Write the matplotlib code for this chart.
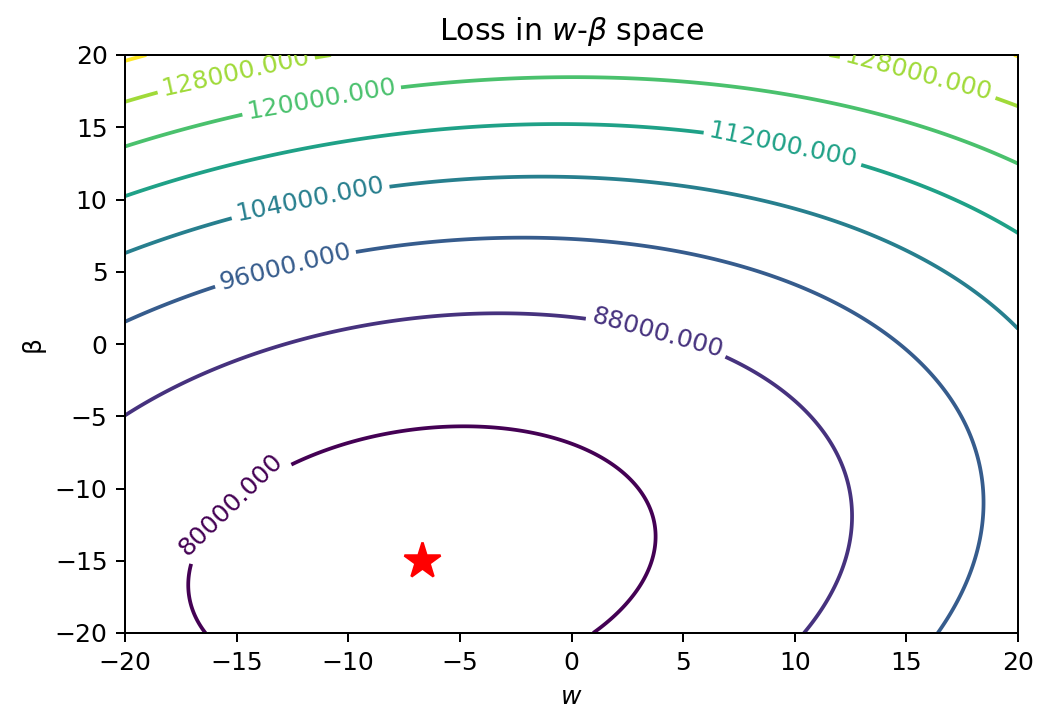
import numpy as np
import matplotlib
matplotlib.use('Agg')
import matplotlib.pyplot as plt

# minimum of the loss (red star) and quadratic shape
w_opt = -6.7
beta_opt = -15.0
loss_min = 76650.0
curv_w = 31.6      # d2L/dw2 / 2
curv_beta = 40.0   # d2L/dbeta2 / 2
curv_cross = -6.4  # mixed term / 2

levels = [80000, 88000, 96000, 104000, 112000, 120000, 128000, 136000]

# where the inline labels sit (w, beta)
label_spots = [(-14.9, -11.7), (3.8, 0.6), (-12.8, 5.1), (-11.7, 9.9),
               (9.5, 13.9), (-11.2, 16.9), (-15.0, 18.5), (15.5, 18.4)]

w = np.linspace(-20, 20, 400)
beta = np.linspace(-20, 20, 400)
W, B = np.meshgrid(w, beta)
dw = W - w_opt
db = B - beta_opt
loss = loss_min + curv_w * dw**2 + curv_beta * db**2 + 2 * curv_cross * dw * db

fig = plt.figure(figsize=(1039 / 180, 717 / 180), dpi=180)
ax = fig.add_axes([125 / 1039, 84 / 717, 893 / 1039, 578 / 717])

cs = ax.contour(W, B, loss, levels=levels, cmap='viridis')
ax.clabel(cs, inline=True, fontsize=10, fmt='%1.3f', manual=label_spots)
ax.plot(w_opt, beta_opt, 'r*', markersize=15)

ax.set_xlabel('$w$')
ax.set_ylabel('β')
ax.set_title(r'Loss in $w$-$\beta$ space')

fig.savefig('out.png', dpi=180)
